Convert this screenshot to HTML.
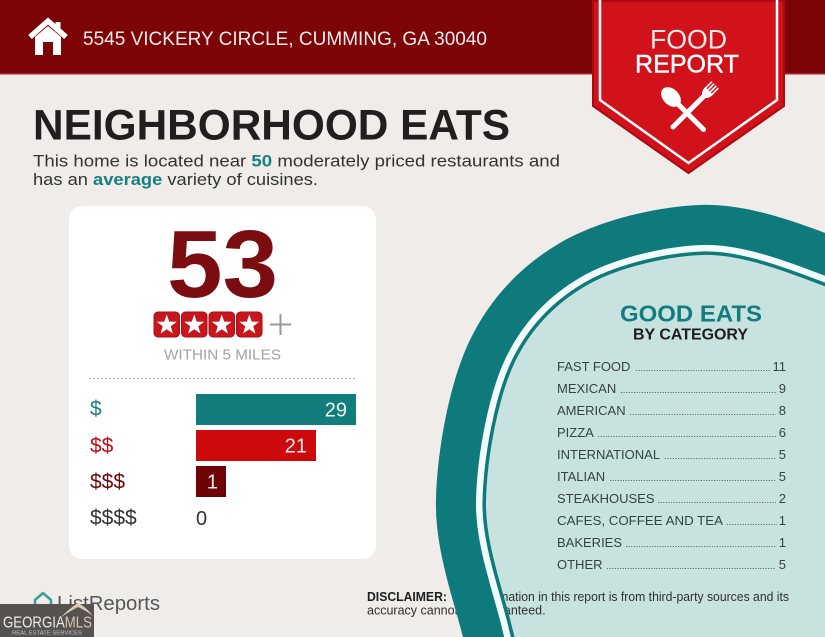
<!DOCTYPE html>
<html><head><meta charset="utf-8"><style>
html,body{margin:0;padding:0;background:#efece9;width:825px;height:637px;overflow:hidden;}
svg{display:block;}
text{font-family:"Liberation Sans",sans-serif;}
</style></head><body>
<svg width="825" height="637" viewBox="0 0 825 637" xmlns="http://www.w3.org/2000/svg" overflow="hidden">
<defs>
<clipPath id="c"><path d="M463,637 C454,600.3 434.8,549.5 436,500 C437.2,450.5 449.3,382.8 470,340 C490.7,297.2 521.7,265.5 560,243 C598.3,220.5 655.8,206.7 700,205 C744.2,203.3 791.7,220.5 825,233 L825,637 Z"/></clipPath>
</defs>
<rect x="0" y="0" width="825" height="637" fill="#efece9"/>
<!-- header -->
<rect x="0" y="0" width="825" height="74" fill="#7c0407"/>
<rect x="0" y="73" width="825" height="1.5" fill="#a42525"/>
<!-- house icon -->
<polyline points="30,37 48,21 66,37" fill="none" stroke="#fff" stroke-width="5.5" stroke-linejoin="miter"/>
<rect x="55.5" y="22" width="5" height="10" fill="#fff"/>
<path d="M35,37 L48,26 L61,37 L61,55 L53,55 L53,42 L43,42 L43,55 L35,55 Z" fill="#fff"/>
<text x="83" y="45" font-size="19" fill="#f6ebeb" textLength="404" lengthAdjust="spacingAndGlyphs">5545 VICKERY CIRCLE, CUMMING, GA 30040</text>
<!-- ribbon -->
<polygon points="593,1 593,106 688.5,173 784,106 784,1" fill="#d2121a" stroke="#a80c12" stroke-width="2"/>
<polyline points="600,0 600,100 688.5,163 777,100 777,0" fill="none" stroke="#fff" stroke-width="2.5"/>
<text x="688.5" y="48.5" font-size="26.5" fill="#fbeaea" text-anchor="middle" textLength="77" lengthAdjust="spacingAndGlyphs">FOOD</text>
<text x="687" y="72.7" font-size="25" fill="#fff" text-anchor="middle" textLength="104" lengthAdjust="spacingAndGlyphs" stroke="#fff" stroke-width="0.4">REPORT</text>
<g transform="translate(671,97) rotate(-45)" fill="#fff">
<ellipse cx="0" cy="0" rx="8" ry="11.5"/>
<line x1="0" y1="9" x2="0" y2="46" stroke="#fff" stroke-width="5" stroke-linecap="round"/>
</g>
<g transform="translate(707,93) rotate(45)" fill="#fff" stroke="#fff">
<line x1="-4.5" y1="-11" x2="-4.5" y2="-2" stroke-width="1.6" stroke-linecap="round"/>
<line x1="-1.5" y1="-11" x2="-1.5" y2="-2" stroke-width="1.6" stroke-linecap="round"/>
<line x1="1.5" y1="-11" x2="1.5" y2="-2" stroke-width="1.6" stroke-linecap="round"/>
<line x1="4.5" y1="-11" x2="4.5" y2="-2" stroke-width="1.6" stroke-linecap="round"/>
<path d="M-5.5,-3 L5.5,-3 Q5.5,4 0,6 Q-5.5,4 -5.5,-3 Z" stroke="none"/>
<line x1="0" y1="4" x2="0" y2="48" stroke-width="5" stroke-linecap="round"/>
</g>
<!-- heading -->
<text x="33" y="139.5" font-size="43" font-weight="bold" fill="#221e1f" textLength="477" lengthAdjust="spacingAndGlyphs">NEIGHBORHOOD EATS</text>
<text x="33" y="166.5" font-size="17" fill="#333" textLength="527" lengthAdjust="spacingAndGlyphs">This home is located near <tspan font-weight="bold" fill="#15807f">50</tspan> moderately priced restaurants and</text>
<text x="33" y="185" font-size="17" fill="#333" textLength="285" lengthAdjust="spacingAndGlyphs">has an <tspan font-weight="bold" fill="#15807f">average</tspan> variety of cuisines.</text>
<!-- card -->
<rect x="69" y="206" width="307" height="353" rx="13" fill="#fff"/>
<text x="167" y="297" font-size="96" font-weight="bold" fill="#7b0c0f" textLength="111" lengthAdjust="spacingAndGlyphs">53</text>
<g fill="#c8161d" stroke="#a5121a" stroke-width="1">
<rect x="154" y="312" width="25.5" height="25" rx="4"/>
<rect x="181.5" y="312" width="25.5" height="25" rx="4"/>
<rect x="209" y="312" width="25.5" height="25" rx="4"/>
<rect x="236.5" y="312" width="25.5" height="25" rx="4"/>
</g>
<g fill="#fff">
<polygon transform="translate(166.75,325)" points="0,-10.5 2.47,-3.4 9.99,-3.24 3.99,1.3 6.17,8.49 0,4.2 -6.17,8.49 -3.99,1.3 -9.99,-3.24 -2.47,-3.4"/>
<polygon transform="translate(194.25,325)" points="0,-10.5 2.47,-3.4 9.99,-3.24 3.99,1.3 6.17,8.49 0,4.2 -6.17,8.49 -3.99,1.3 -9.99,-3.24 -2.47,-3.4"/>
<polygon transform="translate(221.75,325)" points="0,-10.5 2.47,-3.4 9.99,-3.24 3.99,1.3 6.17,8.49 0,4.2 -6.17,8.49 -3.99,1.3 -9.99,-3.24 -2.47,-3.4"/>
<polygon transform="translate(249.25,325)" points="0,-10.5 2.47,-3.4 9.99,-3.24 3.99,1.3 6.17,8.49 0,4.2 -6.17,8.49 -3.99,1.3 -9.99,-3.24 -2.47,-3.4"/>
</g>
<line x1="270" y1="324.5" x2="291" y2="324.5" stroke="#9a9a9a" stroke-width="2"/>
<line x1="280.5" y1="314" x2="280.5" y2="335" stroke="#9a9a9a" stroke-width="2"/>
<text x="222.5" y="359.5" font-size="15" fill="#a2a2a2" text-anchor="middle" textLength="117" lengthAdjust="spacingAndGlyphs">WITHIN 5 MILES</text>
<line x1="89" y1="378.5" x2="356" y2="378.5" stroke="#a8a8a8" stroke-width="1" stroke-dasharray="2 2"/>
<!-- bars -->
<rect x="196" y="394" width="160" height="31" fill="#137c7d"/>
<rect x="196" y="430" width="120" height="31" fill="#cc0a0c"/>
<rect x="196" y="466" width="30" height="31" fill="#6d0305"/>
<text x="347" y="416.5" font-size="20" fill="#eafafa" text-anchor="end">29</text>
<text x="307" y="452.5" font-size="20" fill="#fbecec" text-anchor="end">21</text>
<text x="218" y="488.5" font-size="20" fill="#fbecec" text-anchor="end">1</text>
<text x="196" y="525" font-size="20" fill="#333">0</text>
<text x="90" y="415.5" font-size="21" fill="#1a7f80">$</text>
<text x="90" y="452.5" font-size="21" fill="#b5121b">$$</text>
<text x="90" y="488.5" font-size="21" fill="#6b0a0a">$$$</text>
<text x="90" y="524.5" font-size="21" fill="#333">$$$$</text>
<!-- disclaimer -->
<text x="367" y="601" font-size="12.5" fill="#2f2f2f" textLength="422" lengthAdjust="spacingAndGlyphs"><tspan font-weight="bold" fill="#1e1e1e">DISCLAIMER:</tspan> The information in this report is from third-party sources and its</text>
<text x="367" y="614.5" font-size="12.5" fill="#2f2f2f">accuracy cannot be guaranteed.</text>
<!-- circle -->
<g clip-path="url(#c)">
<rect x="0" y="0" width="825" height="637" fill="#c8e2e0"/>
<text x="367" y="601" font-size="12.5" fill="#2f2f2f" textLength="422" lengthAdjust="spacingAndGlyphs"><tspan font-weight="bold" fill="#1e1e1e">DISCLAIMER:</tspan> The information in this report is from third-party sources and its</text>
<text x="367" y="614.5" font-size="12.5" fill="#2f2f2f">accuracy cannot be guaranteed.</text>
<path d="M463,637 C454,600.3 434.8,549.5 436,500 C437.2,450.5 449.3,382.8 470,340 C490.7,297.2 521.7,265.5 560,243 C598.3,220.5 655.8,206.7 700,205 C744.2,203.3 791.7,220.5 825,233" fill="none" stroke="#0e7a7b" stroke-width="100" stroke-linecap="square"/>
<path d="M463,637 C454,600.3 434.8,549.5 436,500 C437.2,450.5 449.3,382.8 470,340 C490.7,297.2 521.7,265.5 560,243 C598.3,220.5 655.8,206.7 700,205 C744.2,203.3 791.7,220.5 825,233" fill="none" stroke="#f2fcfc" stroke-width="93" stroke-linecap="square"/>
<path d="M463,637 C454,600.3 434.8,549.5 436,500 C437.2,450.5 449.3,382.8 470,340 C490.7,297.2 521.7,265.5 560,243 C598.3,220.5 655.8,206.7 700,205 C744.2,203.3 791.7,220.5 825,233" fill="none" stroke="#0e7a7b" stroke-width="80" stroke-linecap="square"/>
</g>
<!-- list -->
<text x="691" y="321.5" font-size="23.5" font-weight="bold" fill="#137c7c" text-anchor="middle" textLength="142" lengthAdjust="spacingAndGlyphs">GOOD EATS</text>
<text x="690.5" y="339.5" font-size="15.5" font-weight="bold" fill="#1d1d1d" text-anchor="middle" textLength="115" lengthAdjust="spacingAndGlyphs">BY CATEGORY</text>
<g font-size="13" fill="#364243">
<text x="557" y="371">FAST FOOD</text><text x="786" y="371" text-anchor="end">11</text>
<text x="557" y="393">MEXICAN</text><text x="786" y="393" text-anchor="end">9</text>
<text x="557" y="415">AMERICAN</text><text x="786" y="415" text-anchor="end">8</text>
<text x="557" y="437">PIZZA</text><text x="786" y="437" text-anchor="end">6</text>
<text x="557" y="459">INTERNATIONAL</text><text x="786" y="459" text-anchor="end">5</text>
<text x="557" y="481">ITALIAN</text><text x="786" y="481" text-anchor="end">5</text>
<text x="557" y="503">STEAKHOUSES</text><text x="786" y="503" text-anchor="end">2</text>
<text x="557" y="525" textLength="166" lengthAdjust="spacingAndGlyphs">CAFES, COFFEE AND TEA</text><text x="786" y="525" text-anchor="end">1</text>
<text x="557" y="547">BAKERIES</text><text x="786" y="547" text-anchor="end">1</text>
<text x="557" y="569">OTHER</text><text x="786" y="569" text-anchor="end">5</text>
</g>
<g stroke="#5a6364" stroke-width="1.1" stroke-dasharray="1.1 1.5">
<line x1="636" y1="370.5" x2="770" y2="370.5"/>
<line x1="621" y1="392.5" x2="776" y2="392.5"/>
<line x1="630" y1="414.5" x2="776" y2="414.5"/>
<line x1="598" y1="436.5" x2="776" y2="436.5"/>
<line x1="665" y1="458.5" x2="776" y2="458.5"/>
<line x1="610" y1="480.5" x2="776" y2="480.5"/>
<line x1="658" y1="502.5" x2="776" y2="502.5"/>
<line x1="727" y1="524.5" x2="777" y2="524.5"/>
<line x1="626" y1="546.5" x2="777" y2="546.5"/>
<line x1="607" y1="568.5" x2="776" y2="568.5"/>
</g>
<!-- ListReports -->
<path d="M35,600 L43,593 L51,600 L51,611 L35,611 Z" fill="none" stroke="#3a9e9a" stroke-width="2.5" stroke-linejoin="round"/>
<text x="57" y="610" font-size="20" fill="#585858" textLength="103" lengthAdjust="spacingAndGlyphs">ListReports</text>
<!-- Georgia MLS badge -->
<rect x="0" y="604" width="94" height="33" fill="#555250"/>
<path d="M60,618 Q70,608 78,603 Q86,607 93,616 Q85,610 78,607 Q70,611 60,618 Z" fill="#d8cdb8"/>
<text x="3" y="627.5" font-size="16" fill="#ececec" textLength="89" lengthAdjust="spacingAndGlyphs">GEORGIA<tspan fill="#d6c9b4">MLS</tspan></text>
<text x="12" y="634.5" font-size="5" fill="#c8c8c8" textLength="70" lengthAdjust="spacingAndGlyphs">REAL ESTATE SERVICES</text>
</svg>
</body></html>
